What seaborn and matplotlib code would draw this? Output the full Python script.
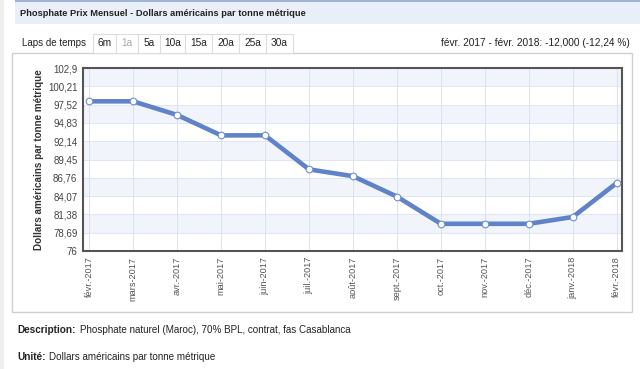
import numpy as np
import pandas as pd
import matplotlib
matplotlib.use("Agg")
import matplotlib.pyplot as plt
import seaborn as sns
from matplotlib.patches import Rectangle

# --- DATA ---
MONTHS = ["févr.-2017", "mars-2017", "avr.-2017", "mai-2017", "juin-2017",
          "juil.-2017", "août-2017", "sept.-2017", "oct.-2017", "nov.-2017",
          "déc.-2017", "janv.-2018", "févr.-2018"]
PRICES = [98, 98, 96, 93, 93, 88, 87, 84, 80, 80, 80, 81, 86]
Y_TICKS = [76, 78.69, 81.38, 84.07, 86.76, 89.45, 92.14, 94.83, 97.52, 100.21, 102.9]
BUTTONS = ["6m", "1a", "5a", "10a", "15a", "20a", "25a", "30a"]

TITLE = "Phosphate Prix Mensuel - Dollars américains par tonne métrique"
CHANGE_TEXT = "févr. 2017 - févr. 2018: -12,000 (-12,24 %)"
Y_LABEL = "Dollars américains par tonne métrique"

W, H = 640, 369


def fx(px):
    return px / W


def fy(py):
    return 1 - py / H


sns.set_theme(style="white")
plt.rcParams['font.family'] = ['Liberation Sans', 'DejaVu Sans']

df = pd.DataFrame({"idx": range(len(MONTHS)), "price": PRICES})

fig = plt.figure(figsize=(6.4, 3.69), dpi=100)
fig.patch.set_facecolor("white")

# header bar
fig.patches.append(Rectangle((fx(15), fy(24)), fx(625), 22 / H, transform=fig.transFigure,
                             facecolor="#e9eff8", edgecolor="none", zorder=0))
fig.patches.append(Rectangle((fx(15), fy(2)), fx(625), 2 / H, transform=fig.transFigure,
                             facecolor="#9fb2cf", edgecolor="none", zorder=0))
fig.patches.append(Rectangle((0, 0), fx(4), 1, transform=fig.transFigure,
                             facecolor="#eeeeee", edgecolor="none", zorder=0))
fig.text(fx(20), fy(13), TITLE, fontsize=6.7, fontweight="bold", color="#222222",
         va="center", ha="left")

# time-span row
fig.text(fx(22), fy(43), "Laps de temps", fontsize=7, color="#222222", va="center")
bx = [93, 116, 138, 160, 185, 212, 239, 266, 293]
for i, b in enumerate(BUTTONS):
    fig.patches.append(Rectangle((fx(bx[i]), fy(53)), fx(bx[i + 1] - bx[i]), 19 / H,
                                 transform=fig.transFigure, facecolor="white",
                                 edgecolor="#dddddd", lw=0.8, zorder=1))
    fig.text(fx((bx[i] + bx[i + 1]) / 2), fy(43), b, fontsize=7.3,
             color="#aaaaaa" if b == "1a" else "#222222", ha="center", va="center", zorder=2)
fig.text(fx(630), fy(43), CHANGE_TEXT, fontsize=7.3, color="#222222", ha="right", va="center")

# chart box
fig.patches.append(Rectangle((fx(12), fy(312)), fx(620), 259 / H, transform=fig.transFigure,
                             facecolor="white", edgecolor="#d0d0d0", lw=1, zorder=0))

ax = fig.add_axes([fx(83), fy(251), fx(539), 183 / H])
ax.set_zorder(5)
ax.set_facecolor("white")
for i in range(1, len(Y_TICKS) - 1, 2):
    ax.axhspan(Y_TICKS[i], Y_TICKS[i + 1], color="#f1f4fb", zorder=0, lw=0)
for y in Y_TICKS:
    ax.axhline(y, color="#dfe6f2", lw=0.7, zorder=0.5)
for i in range(len(MONTHS)):
    ax.axvline(i, color="#dae2f0", lw=0.7, zorder=0.5)

sns.lineplot(data=df, x="idx", y="price", ax=ax, color="#5f82c8", lw=3.3,
             marker="o", markersize=4.8, markerfacecolor="white",
             markeredgecolor="#6f8fcf", markeredgewidth=0.8, zorder=3)

ax.set_xlim(-0.14, len(MONTHS) - 1 + 0.12)
ax.set_ylim(76, 102.9)
ax.set_yticks(Y_TICKS)
ax.set_yticklabels([f"{v:g}".replace(".", ",") for v in Y_TICKS], fontsize=7, color="#444444")
ax.set_xticks(range(len(MONTHS)))
ax.set_xticklabels(MONTHS, rotation=90, fontsize=6.6, color="#555555")
ax.tick_params(axis="both", length=0, pad=4)
ax.set_xlabel("")
ax.set_ylabel(Y_LABEL, fontsize=7.1, fontweight="bold", color="#333333", labelpad=3)
for s in ax.spines.values():
    s.set_color("#555555")
    s.set_linewidth(1.5)

# footer text
fig.text(fx(17), fy(330), "Description:", fontsize=7.2, fontweight="bold", color="#222222", va="center")
fig.text(fx(80), fy(330), "Phosphate naturel (Maroc), 70% BPL, contrat, fas Casablanca",
         fontsize=7.1, color="#222222", va="center")
fig.text(fx(17), fy(357), "Unité:", fontsize=7.2, fontweight="bold", color="#222222", va="center")
fig.text(fx(49), fy(357), "Dollars américains par tonne métrique", fontsize=7.1,
         color="#222222", va="center")

fig.savefig("out.png", dpi=100)
